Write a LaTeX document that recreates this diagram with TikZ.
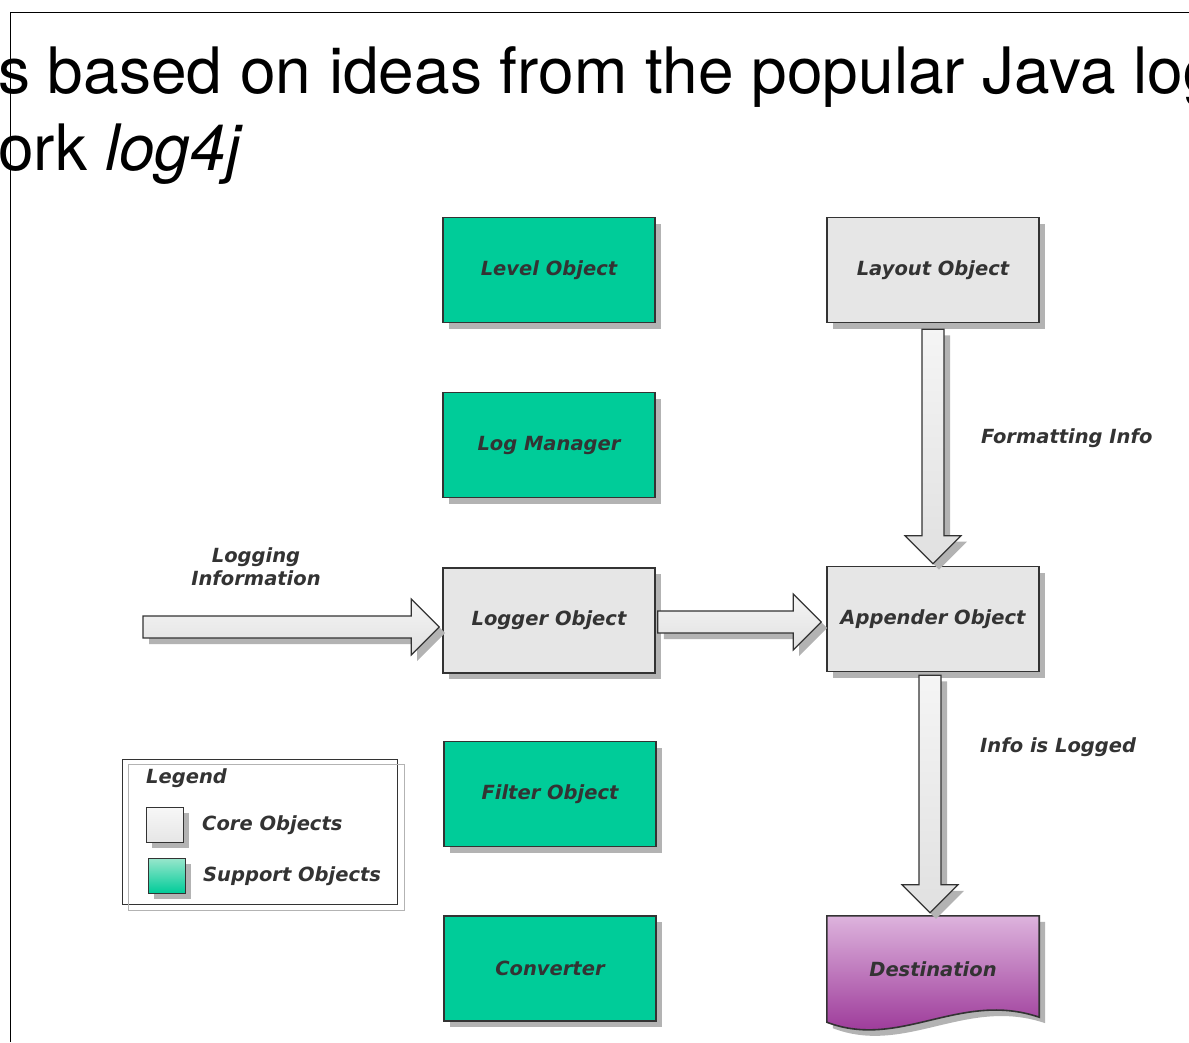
\documentclass[tikz,border=0pt]{standalone}
\usepackage{fontspec}
\setmainfont{TeX Gyre Heros}
\newfontfamily\boxfont{DejaVu Sans}
\usetikzlibrary{calc,shadows,backgrounds}

\definecolor{support}{HTML}{00CC99}
\definecolor{supportlight}{HTML}{99E6CC}
\definecolor{core}{HTML}{E6E6E6}
\definecolor{boxline}{HTML}{333333}
\definecolor{shadowgray}{HTML}{B3B3B3}
\definecolor{desttop}{HTML}{DDB3DD}
\definecolor{destbot}{HTML}{93278F}

\tikzset{
  objshadow/.style={drop shadow={shadow xshift=6pt, shadow yshift=-6pt, fill=shadowgray, opacity=1}},
  lbl/.style={font=\boxfont\bfseries\itshape\fontsize{19.5}{23}\selectfont, text=boxline, align=center, inner sep=0pt},
  obj/.style={lbl, draw=boxline, line width=1.6pt, minimum width=212pt, minimum height=105pt, objshadow},
  coreobj/.style={obj, fill=core},
  supportobj/.style={obj, fill=support},
  blockarrow/.style={draw=boxline, line width=1.2pt, top color=white!96!black, bottom color=black!12, objshadow},
  title/.style={font=\fontsize{64}{75}\selectfont, anchor=base west, inner sep=0pt},
}

% block arrow from #1 to #2
\newcommand{\blockarr}[2]{%
  \path ($(#2)!28pt!(#1)$) coordinate (hb);
  \draw[blockarrow] ($(#1)!11pt!90:(#2)$) -- ($(hb)!11pt!90:(#2)$) -- ($(hb)!28pt!90:(#2)$)
    -- (#2) -- ($(hb)!28pt!-90:(#2)$) -- ($(hb)!11pt!-90:(#2)$) -- ($(#1)!11pt!-90:(#2)$) -- cycle;}

\begin{document}
\begin{tikzpicture}[x=1pt,y=-1pt]
  \useasboundingbox (0,0) rectangle (1189,1042);
  \clip (0,0) rectangle (1189,1042);

  % slide heading
  \node[title] (titleone) at (-2,93) {s based on ideas from the popular Java log};
  \node[title] (titletwo) at (-2,170) {ork \textit{log4j}};
  \draw[line width=1pt] (10,1042) -- (10,12) -- (1189,12);

  % objects
  \node[supportobj] (level) at (549,270) {Level Object};
  \node[supportobj] (logmgr) at (549,445) {Log Manager};
  \node[coreobj] (logger) at (549,620.5) {Logger Object};
  \node[supportobj] (filter) at (550,794) {Filter Object};
  \node[supportobj] (converter) at (550,968.5) {Converter};
  \node[coreobj] (layout) at (933,270) {Layout Object};
  \node[coreobj] (appender) at (933,619) {Appender Object};
  \node[lbl, minimum width=212pt, minimum height=106pt] (destination) at (933,969) {Destination};
  \begin{scope}[on background layer]
    \draw[draw=boxline, line width=1.6pt, top color=desttop, bottom color=destbot, objshadow]
      (destination.north west) -- (destination.north east) -- ($(destination.south east)+(0,-5)$)
      .. controls +(-79,-27) and +(73,28) .. (destination.south west) -- cycle;
  \end{scope}

  % arrows
  \coordinate (logsrc) at (143,627);
  \coordinate (logdst) at ($(logsrc -| logger.west)+(-3,0)$);
  \blockarr{logsrc}{logdst}
  \blockarr{$(logger.east)+(2,1.5)$}{$(appender.west)+(-5,3)$}
  \blockarr{$(layout.south)+(0,6)$}{$(appender.north)+(0,-2)$}
  \blockarr{$(appender.south)+(-3,3)$}{$(destination.north)+(-3,-3)$}

  \node[lbl] (loginfo) at (256,567) {Logging\\Information};
  \node[lbl, anchor=west] (fmtinfo) at (981,438) {Formatting Info};
  \node[lbl, anchor=west] (logged) at (980,747) {Info is Logged};

  % legend
  \node[draw=boxline, line width=1pt, minimum width=275pt, minimum height=145pt, anchor=north west] (legend) at (122,759) {};
  \draw[shadowgray, line width=1pt] ($(legend.north west)+(6,5)$) rectangle ($(legend.south east)+(6,5)$);
  \node[lbl, anchor=west] (legendtitle) at (146,778) {Legend};
  \node[draw=boxline, line width=1pt, minimum width=37pt, minimum height=35pt, inner sep=0pt,
    top color=white!97!black, bottom color=core, objshadow] (coresq) at (164.5,824.5) {};
  \node[lbl, anchor=west] (coretext) at (202,825) {Core Objects};
  \node[draw=boxline, line width=1pt, minimum width=37pt, minimum height=35pt, inner sep=0pt,
    top color=supportlight, bottom color=support, objshadow] (supsq) at (166.5,875.5) {};
  \node[lbl, anchor=west] (suptext) at (203,876) {Support Objects};
\end{tikzpicture}
\end{document}
